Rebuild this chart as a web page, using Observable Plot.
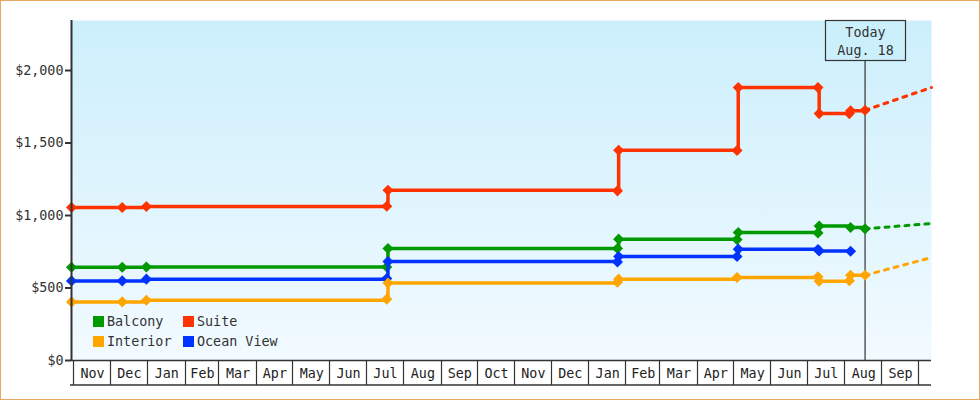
<!DOCTYPE html>
<html><head><meta charset="utf-8">
<script src="https://cdn.jsdelivr.net/npm/d3@7"></script>
<script src="https://cdn.jsdelivr.net/npm/@observablehq/plot@0.6"></script>
<style>
html,body{margin:0;padding:0;background:#fff;}
#wrap{position:relative;width:980px;height:400px;box-sizing:border-box;border:1px solid #e6a862;overflow:hidden;background:#fff;}
#wrap svg{display:block;}
.item{position:absolute;display:flex;align-items:center;height:12px;white-space:nowrap;font:13.4px "DejaVu Sans Mono",monospace;color:#333;}
.sw{width:11px;height:11px;margin-right:3px;flex:none;}
</style></head>
<body><div id="wrap"></div>
<script>
// ---- data ----
const seriesNames = ["Balcony", "Suite", "Interior", "Ocean View"];
const seriesColors = ["#009900", "#ff3300", "#ffa500", "#0033ff"];

const suiteDates = ["2013-10-30","2013-12-11","2013-12-31","2014-07-18","2014-07-19","2015-01-25","2015-01-26","2015-05-04","2015-05-05","2015-07-10","2015-07-11","2015-08-05","2015-08-06","2015-08-18"];
const suitePrices = [1055,1055,1062,1064,1174,1170,1450,1448,1883,1883,1703,1703,1722,1726];

const balconyDates = ["2013-10-30","2013-12-11","2013-12-31","2014-07-18","2014-07-19","2015-01-25","2015-01-26","2015-05-04","2015-05-05","2015-07-10","2015-07-11","2015-08-06","2015-08-18"];
const balconyPrices = [643,643,645,645,772,772,837,834,883,880,928,917,908];

const oceanDates = ["2013-10-30","2013-12-11","2013-12-31","2014-07-18","2014-07-19","2015-01-25","2015-01-26","2015-05-04","2015-05-05","2015-07-10","2015-07-11","2015-08-06"];
const oceanPrices = [549,549,561,566,683,680,717,717,768,766,756,754];

const interiorDates = ["2013-10-30","2013-12-11","2013-12-31","2014-07-18","2014-07-19","2015-01-25","2015-01-26","2015-05-04","2015-07-10","2015-07-11","2015-08-05","2015-08-06","2015-08-18"];
const interiorPrices = [404,404,416,423,535,540,561,572,577,547,550,588,588];

// forecasts (from today to end of chart)
const forecastDates = ["2015-08-18","2015-10-12"];
const suiteForecast = [1726, 1883];
const balconyForecast = [908, 945];
const interiorForecast = [588, 710];

const todayDate = "2015-08-18";
const todayLabel = ["Today", "Aug. 18"];
const xStart = "2013-10-30", xEnd = "2015-10-12";
const yMax = 2345;
const yTicks = [0, 500, 1000, 1500, 2000];
const monthLabels = ["Nov","Dec","Jan","Feb","Mar","Apr","May","Jun","Jul","Aug","Sep","Oct","Nov","Dec","Jan","Feb","Mar","Apr","May","Jun","Jul","Aug","Sep"];
const firstMonth = "2013-11-01";

// ---- build ----
const rows = (name, dates, prices) => dates.map((d, i) => ({series: name, date: new Date(d), price: prices[i]}));
const x0 = new Date(xStart), x1 = new Date(xEnd), today = new Date(todayDate);
const monthStarts = d3.range(monthLabels.length + 1).map(i => d3.utcMonth.offset(new Date(firstMonth), i));
const FONT = '"DejaVu Sans Mono", monospace';
const FS = 13.4;

const series = [
  {name: "Suite", data: rows("Suite", suiteDates, suitePrices), fc: rows("Suite", forecastDates, suiteForecast)},
  {name: "Balcony", data: rows("Balcony", balconyDates, balconyPrices), fc: rows("Balcony", forecastDates, balconyForecast)},
  {name: "Ocean View", data: rows("Ocean View", oceanDates, oceanPrices), fc: null},
  {name: "Interior", data: rows("Interior", interiorDates, interiorPrices), fc: rows("Interior", forecastDates, interiorForecast)}
];
const colorOf = n => seriesColors[seriesNames.indexOf(n)];

function monthBands(index, scales, values, dim) {
  const g = d3.create("svg:g").attr("font-family", FONT).attr("font-size", FS);
  const yTop = dim.height - dim.marginBottom, yBot = yTop + 25;
  g.append("line").attr("x1", dim.marginLeft - 1).attr("x2", dim.width - dim.marginRight)
    .attr("y1", yBot).attr("y2", yBot).attr("stroke", "#333").attr("stroke-width", 1.5);
  monthStarts.forEach((m, i) => {
    const xa = Math.round(scales.x(m)) + 0.5;
    g.append("line").attr("x1", xa).attr("x2", xa).attr("y1", yTop).attr("y2", yBot)
      .attr("stroke", "#333").attr("stroke-width", 1.2);
    if (i < monthLabels.length) {
      const xb = scales.x(monthStarts[i + 1]);
      g.append("text").attr("x", (scales.x(m) + xb) / 2 + 1).attr("y", yTop + 18)
        .attr("text-anchor", "middle").attr("fill", "#222").text(monthLabels[i]);
    }
  });
  return g.node();
}

function todayBox(index, scales, values, dim) {
  const cx = Math.round(scales.x(today)) + 0.5;
  const g = d3.create("svg:g").attr("font-family", FONT).attr("font-size", FS);
  g.append("rect").attr("x", cx - 40).attr("y", dim.marginTop + 0.5).attr("width", 80).attr("height", 40)
    .attr("fill", "#cceffc").attr("stroke", "#333").attr("stroke-width", 1.2);
  g.append("text").attr("x", cx).attr("y", dim.marginTop + 17).attr("text-anchor", "middle").attr("fill", "#333").text(todayLabel[0]);
  g.append("text").attr("x", cx).attr("y", dim.marginTop + 35).attr("text-anchor", "middle").attr("fill", "#333").text(todayLabel[1]);
  return g.node();
}

const marks = [
  Plot.frame({fill: "url(#bgGrad)", stroke: "none"}),
  Plot.axisY({ticks: yTicks, tickFormat: d => "$" + d3.format(",")(d), tickSize: 6, tickPadding: 2,
    color: "#333", strokeWidth: 2, fontSize: FS, label: null}),
  monthBands,
  Plot.ruleX([today], {stroke: "#333", strokeWidth: 1.2})
];
for (const s of series) {
  const c = colorOf(s.name);
  marks.push(Plot.line(s.data, {x: "date", y: "price", stroke: c, strokeWidth: 3.5, curve: "step-after"}));
  if (s.fc) marks.push(Plot.line(s.fc, {x: "date", y: "price", stroke: c, strokeWidth: 3, strokeDasharray: "4,6"}));
  marks.push(Plot.dot(s.data, {x: "date", y: "price", fill: c, symbol: "diamond2", r: 5}));
}
marks.push(Plot.ruleX([x0], {stroke: "#333", strokeWidth: 2}));
marks.push(Plot.ruleY([0], {stroke: "#333", strokeWidth: 1.5}));
marks.push(todayBox);

const chart = Plot.plot({
  width: 978, height: 398,
  marginLeft: 70, marginTop: 19, marginRight: 48, marginBottom: 39,
  x: {type: "utc", domain: [x0, x1], axis: null},
  y: {domain: [0, yMax], axis: null},
  style: {fontFamily: FONT, fontSize: FS + "px", background: "transparent", overflow: "visible"},
  marks
});

const defs = d3.select(chart).insert("defs", ":first-child");
const grad = defs.append("linearGradient").attr("id", "bgGrad").attr("x1", 0).attr("y1", 0).attr("x2", 0).attr("y2", 1);
grad.append("stop").attr("offset", "0%").attr("stop-color", "#cceffc");
grad.append("stop").attr("offset", "100%").attr("stop-color", "#f2faff");

const wrap = document.getElementById("wrap");
wrap.appendChild(chart);

// legend (inside plot area, bottom-left)
const legendPos = [[92, 314], [182, 314], [92, 334], [182, 334]];
seriesNames.forEach((n, i) => {
  const it = document.createElement("div");
  it.className = "item";
  it.style.left = legendPos[i][0] + "px";
  it.style.top = legendPos[i][1] + "px";
  it.innerHTML = `<div class="sw" style="background:${seriesColors[i]}"></div><span>${n}</span>`;
  wrap.appendChild(it);
});
</script>
</body></html>
